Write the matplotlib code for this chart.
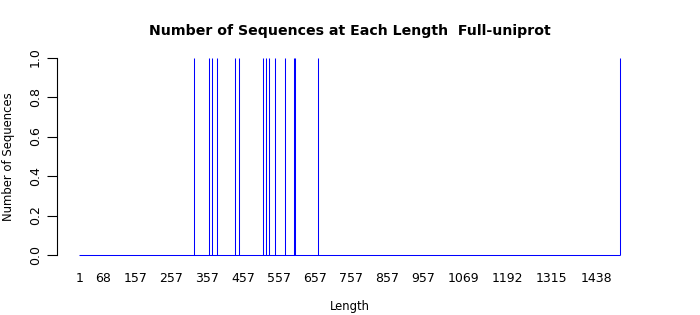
import numpy as np
import matplotlib
matplotlib.use("Agg")
import matplotlib.pyplot as plt

# Data
max_length = 1504
observed_lengths = [321, 361, 369, 383, 435, 446, 511, 519, 528, 545, 574, 597, 601, 666, 1504]
x_tick_labels = [1, 68, 157, 257, 357, 457, 557, 657, 757, 857, 957, 1069, 1192, 1315, 1438]
y_ticks = [0.0, 0.2, 0.4, 0.6, 0.8, 1.0]

lengths = np.arange(1, max_length + 1)
counts = np.zeros(max_length)
for L in observed_lengths:
    counts[L - 1] += 1

fig = plt.figure(figsize=(7, 3.15), dpi=100)
ax = fig.add_axes([0.082, 0.1654, 0.8346, 0.6771])

half = 0.415
nz = counts > 0
# bars (each narrower than a pixel, so drawn as lines)
ax.vlines(lengths[nz], 0, counts[nz], color="#0000ff", linewidth=0.75)
# zero-height bar borders form the baseline
ax.hlines(0, lengths[0] - half, lengths[-1] + half, color="#0000ff", linewidth=0.75)

span = max_length - 1 + 2 * half
pad = 0.04 * span
ax.set_xlim(1 - half - pad, max_length + half + pad)
ax.set_ylim(-0.04, 1.04)

for s in ["top", "right", "bottom"]:
    ax.spines[s].set_visible(False)
ax.spines["left"].set_bounds(0, 1)
ax.spines["left"].set_linewidth(0.8)

ax.set_yticks(y_ticks)
ax.set_yticklabels([f"{v:.1f}" for v in y_ticks], rotation=90, va="center", fontsize=9)
ax.tick_params(axis="y", length=7, width=0.8, pad=4)

ax.set_xticks(x_tick_labels)
ax.set_xticklabels([str(v) for v in x_tick_labels], fontsize=9)
ax.tick_params(axis="x", length=0, pad=6.5)

ax.set_xlabel("Length", fontsize=8.4, labelpad=11)
ax.set_ylabel("Number of Sequences", fontsize=8.4, labelpad=10)
fig.suptitle("Number of Sequences at Each Length  Full-uniprot", fontsize=10.15,
             fontweight="bold", x=0.5, y=0.925)

fig.savefig("out.png", dpi=100)
